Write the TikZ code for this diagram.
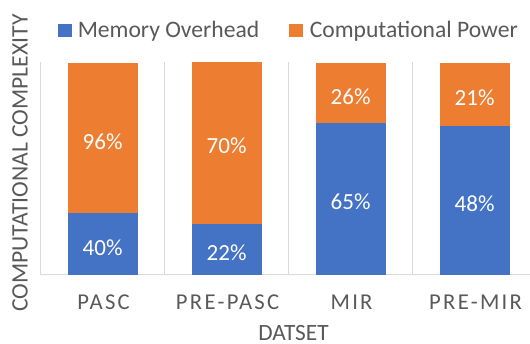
\documentclass[tikz,border=0pt]{standalone}
\usepackage{fontspec}
\setmainfont{Carlito}
\newfontfamily\spacedfont[LetterSpace=10]{Carlito}
\definecolor{barblue}{HTML}{4472C4}
\definecolor{barorange}{HTML}{ED7D31}
\definecolor{gridgray}{HTML}{D9D9D9}
\definecolor{txtgray}{HTML}{595959}
\begin{document}
\begin{tikzpicture}[x=0.75pt,y=-0.75pt,
  pct/.style={text=white,font=\fontsize{17.3}{20}\selectfont,inner sep=0pt,anchor=base},
  cat/.style={text=txtgray,font=\spacedfont\fontsize{17}{20}\selectfont,inner sep=0pt,anchor=base},
  leg/.style={text=txtgray,font=\fontsize{17.7}{20}\selectfont,inner sep=0pt,anchor=base west},
  grid/.style={draw=gridgray,line width=1.1pt}]
\useasboundingbox (0,0) rectangle (530,343);
% gridlines
\foreach \x in {40.5,164.5,288.5,412.5} \draw[grid] (\x,61.5) -- (\x,274.7);
\draw[grid] (40.5,274.7) -- (530,274.7);
% bars
\fill[barblue] (67.6,213) rectangle (137.6,274.7);
\fill[barorange] (67.6,62.5) rectangle (137.6,213);
\fill[barblue] (191.6,223.7) rectangle (261.6,274.7);
\fill[barorange] (191.6,61.5) rectangle (261.6,223.7);
\fill[barblue] (315.6,122.5) rectangle (385.6,274.7);
\fill[barorange] (315.6,62.5) rectangle (385.6,122.5);
\fill[barblue] (439.6,126.3) rectangle (509.6,274.7);
\fill[barorange] (439.6,62.5) rectangle (509.6,126.3);
% value labels
\node[pct] (p1o) at (102.6,149.3) {96\%};
\node[pct] (p1b) at (102.6,255.2) {40\%};
\node[pct] (p2o) at (226.6,153.9) {70\%};
\node[pct] (p2b) at (226.6,260.5) {22\%};
\node[pct] (p3o) at (350.6,104.3) {26\%};
\node[pct] (p3b) at (350.6,209.8) {65\%};
\node[pct] (p4o) at (474.6,105.7) {21\%};
\node[pct] (p4b) at (474.6,211.8) {48\%};
% category labels
\node[cat] (c1) at (103.6,309.8) {PASC};
\node[cat] (c2) at (227.6,309.8) {PRE-PASC};
\node[cat] (c3) at (351.6,309.8) {MIR};
\node[cat] (c4) at (475.6,309.8) {PRE-MIR};
% axis titles
\node[text=txtgray,font=\fontsize{17.5}{20}\selectfont,inner sep=0pt,anchor=base] (xt) at (293.5,340.3) {DATSET};
\node[text=txtgray,font=\fontsize{17.7}{20}\selectfont,inner sep=0pt,text depth=0pt,rotate=90] (yt) at (20,163) {COMPUTATIONAL COMPLEXITY};
% legend
\fill[barblue] (58.3,23.5) rectangle (71.7,37);
\node[leg] (l1) at (77.5,37.3) {Memory Overhead};
\fill[barorange] (289.3,23.5) rectangle (302.7,37);
\node[leg] (l2) at (309.5,37.3) {Computational Power};
\end{tikzpicture}
\end{document}
